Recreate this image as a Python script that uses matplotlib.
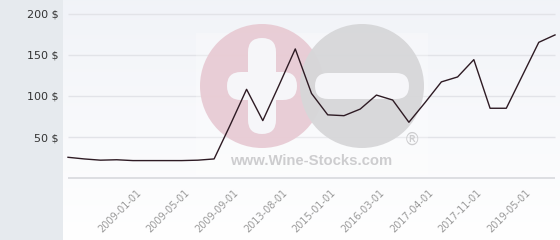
import numpy as np
import matplotlib.pyplot as plt
import matplotlib.patches as mpatches
import matplotlib.transforms as mtransforms

# price history, one value per category (evenly spaced)
prices = [25.5, 23.5, 22, 22.5, 21.5, 21.5, 21.5, 21.5, 22, 23.5,
          65, 108, 70, 113, 157, 103, 77, 76, 84, 101,
          95, 68, 92, 117, 123, 144, 85, 85, 125, 165, 174]
tick_labels = ['2009-01-01', '2009-05-01', '2009-09-01', '2013-08-01', '2015-01-01',
               '2016-03-01', '2017-04-01', '2017-11-01', '2019-05-01']
first_tick = 4
tick_step = 3
y_ticks = [50, 100, 150, 200]

W, H = 560, 240
fig = plt.figure(figsize=(W / 100, H / 100), dpi=100)
fig.patch.set_facecolor('#e6eaee')

# pixel coords (y down) -> display
px = mtransforms.Affine2D().scale(1 / W, -1 / H).translate(0, 1) + fig.transFigure

# gradient plot background
bg = fig.add_axes([63 / W, 0, 1 - 63 / W, 1])
grad = np.linspace(0, 1, 256).reshape(-1, 1)
top = np.array([0.945, 0.953, 0.972])
bot = np.array([1.0, 1.0, 1.0])
img = top + (bot - top) * grad[..., None]
bg.imshow(img, aspect='auto', extent=[0, 1, 0, 1], origin='upper')
bg.set_axis_off()

x0, x1 = 68, 555
dx = (x1 - x0) / (len(prices) - 1)
y_zero = 178.3
ppu = 0.824

ax = fig.add_axes([63 / W, (H - y_zero) / H, 1 - 63 / W, y_zero / H])
ax.patch.set_alpha(0)
ax.set_xlim(-(x0 - 63) / dx, len(prices) - 1 + (W - x1) / dx)
ax.set_ylim(0, y_zero / ppu)
for s in ax.spines.values():
    s.set_visible(False)

xs = np.arange(len(prices))
ax.hlines(y_ticks, 0, len(prices) - 1, color='#e2e3e8', lw=1, zorder=0.5)
ax.hlines(0, 0, len(prices) - 1, color='#d8d9dd', lw=1.2, zorder=0.5, clip_on=False)

# watermark
wm_color = '#e8cbd4'
ax.add_patch(mpatches.Rectangle((196, 33), 232, 142, transform=px, color='white',
                                alpha=0.25, lw=0, zorder=0.8, clip_on=False))
ax.add_patch(mpatches.Circle((262, 86), 62, transform=px, color=wm_color,
                             alpha=0.95, lw=0, zorder=1, clip_on=False))
ax.add_patch(mpatches.FancyBboxPatch((227, 72), 70, 28, boxstyle='round,pad=0,rounding_size=14',
                                     transform=px, color='#f6f6f9', lw=0, zorder=1.1, clip_on=False))
ax.add_patch(mpatches.FancyBboxPatch((248, 38), 28, 96, boxstyle='round,pad=0,rounding_size=14',
                                     transform=px, color='#f6f6f9', lw=0, zorder=1.1, clip_on=False))
ax.add_patch(mpatches.Circle((362, 86), 62, transform=px, color='#d7d7d9',
                             alpha=0.97, lw=0, zorder=1.2, clip_on=False))
ax.add_patch(mpatches.FancyBboxPatch((315, 73), 94, 26, boxstyle='round,pad=0,rounding_size=13',
                                     transform=px, color='#f6f6f9', lw=0, zorder=1.3, clip_on=False))
ax.text(311, 161, 'www.Wine-Stocks.com', transform=px, ha='center', va='center',
        family='Liberation Sans', weight='bold', fontsize=10.7, color='#cdcdcf', zorder=1.3)
ax.text(412, 140, '®', transform=px, ha='center', va='center',
        family='DejaVu Sans', fontsize=12, color='#cdcdcf', zorder=1.3)

ax.plot(xs, prices, color='#2e1b24', lw=1, zorder=3)

ax.set_yticks(y_ticks, [f'{v} $' for v in y_ticks])
ax.tick_params(axis='y', length=0, pad=3.5, labelsize=8, labelcolor='#333333')

tick_pos = list(range(first_tick, len(prices), tick_step))
ax.set_xticks(tick_pos, tick_labels)
ax.tick_params(axis='x', length=0, pad=6.5, labelsize=7, labelcolor='#9a9a9a')
off = mtransforms.ScaledTranslation(3 / 100, 0, fig.dpi_scale_trans)
for lab in ax.get_xticklabels():
    lab.set_rotation(45)
    lab.set_ha('right')
    lab.set_va('top')
    lab.set_rotation_mode('anchor')
    lab.set_transform(lab.get_transform() + off)

fig.savefig('out.png', dpi=100, facecolor=fig.get_facecolor())
